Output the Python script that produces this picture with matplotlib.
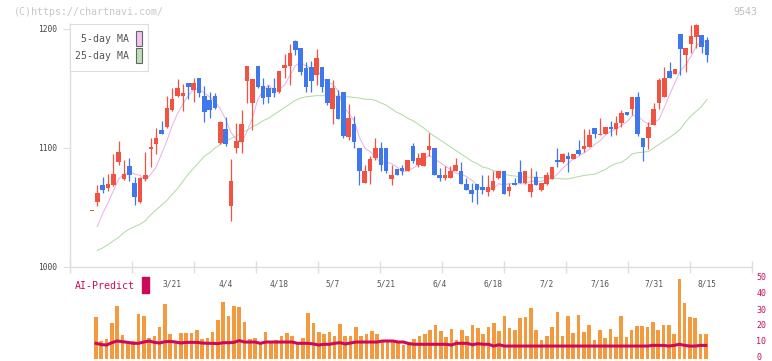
import numpy as np
import matplotlib
matplotlib.use('Agg')
import matplotlib.pyplot as plt
import matplotlib.transforms as mtransforms
from matplotlib.patches import Rectangle

# daily candles 2/28 .. 8/15 (yen)
opens = [1047, 1055, 1069, 1066, 1069, 1088, 1074, 1085, 1071, 1055,
         1074, 1099, 1103, 1115, 1118, 1132, 1144, 1144, 1155, 1149,
         1159, 1144, 1140, 1144, 1104, 1116, 1051, 1100, 1105, 1156,
         1138, 1169, 1152, 1150, 1150, 1147, 1167, 1169, 1190, 1184,
         1167, 1168, 1161, 1168, 1158, 1133, 1144, 1147, 1109, 1120,
         1100, 1071, 1081, 1092, 1100, 1100, 1074, 1082, 1083, 1081,
         1102, 1086, 1085, 1098, 1100, 1077, 1075, 1075, 1081, 1081,
         1070, 1065, 1070, 1067, 1063, 1065, 1075, 1081, 1064, 1071,
         1080, 1071, 1063, 1076, 1065, 1070, 1074, 1090, 1088, 1093,
         1091, 1098, 1099, 1101, 1117, 1111, 1112, 1118, 1116, 1121,
         1130, 1133, 1143, 1108, 1108, 1119, 1138, 1143, 1165, 1162,
         1196, 1178, 1187, 1193, 1195, 1191]
highs = [1047, 1069, 1076, 1078, 1095, 1106, 1090, 1092, 1076, 1076,
         1097, 1108, 1117, 1123, 1144, 1150, 1158, 1154, 1155, 1159,
         1159, 1152, 1147, 1146, 1123, 1126, 1091, 1121, 1132, 1169,
         1158, 1169, 1159, 1153, 1159, 1165, 1179, 1187, 1191, 1184,
         1172, 1173, 1183, 1168, 1158, 1157, 1149, 1147, 1137, 1127,
         1100, 1086, 1093, 1108, 1105, 1100, 1086, 1082, 1086, 1090,
         1104, 1096, 1096, 1113, 1100, 1083, 1085, 1085, 1092, 1088,
         1075, 1071, 1070, 1077, 1077, 1081, 1081, 1081, 1071, 1075,
         1090, 1081, 1083, 1081, 1071, 1080, 1084, 1100, 1096, 1097,
         1095, 1107, 1116, 1116, 1117, 1125, 1118, 1123, 1127, 1132,
         1130, 1143, 1147, 1108, 1122, 1138, 1159, 1168, 1172, 1166,
         1196, 1184, 1203, 1204, 1195, 1193]
lows = [1047, 1051, 1062, 1064, 1068, 1086, 1073, 1072, 1052, 1054,
        1072, 1084, 1095, 1112, 1117, 1131, 1143, 1131, 1141, 1139,
        1143, 1122, 1125, 1133, 1103, 1102, 1039, 1096, 1096, 1138,
        1115, 1150, 1137, 1138, 1143, 1146, 1159, 1153, 1178, 1161,
        1147, 1147, 1153, 1147, 1136, 1120, 1124, 1108, 1107, 1100,
        1069, 1071, 1070, 1090, 1081, 1079, 1069, 1077, 1077, 1081,
        1087, 1084, 1085, 1093, 1077, 1072, 1073, 1075, 1081, 1070,
        1065, 1055, 1053, 1061, 1060, 1064, 1074, 1061, 1060, 1069,
        1071, 1070, 1059, 1069, 1064, 1069, 1074, 1084, 1087, 1080,
        1091, 1094, 1097, 1101, 1108, 1111, 1112, 1110, 1111, 1118,
        1128, 1128, 1110, 1089, 1099, 1119, 1133, 1143, 1159, 1162,
        1161, 1164, 1180, 1184, 1180, 1172]
closes = [1047, 1062, 1065, 1070, 1078, 1097, 1078, 1077, 1059, 1075,
          1077, 1101, 1108, 1112, 1134, 1141, 1150, 1146, 1151, 1155,
          1146, 1130, 1132, 1134, 1122, 1103, 1072, 1106, 1120, 1169,
          1158, 1151, 1142, 1143, 1146, 1165, 1170, 1180, 1182, 1164,
          1151, 1156, 1176, 1151, 1138, 1150, 1124, 1110, 1125, 1105,
          1081, 1081, 1091, 1100, 1086, 1081, 1077, 1077, 1081, 1090,
          1089, 1092, 1096, 1102, 1077, 1075, 1077, 1081, 1086, 1070,
          1065, 1061, 1065, 1065, 1067, 1072, 1081, 1061, 1067, 1069,
          1071, 1081, 1070, 1069, 1071, 1077, 1084, 1088, 1095, 1091,
          1095, 1095, 1102, 1111, 1112, 1112, 1118, 1116, 1121, 1129,
          1128, 1143, 1112, 1101, 1118, 1133, 1157, 1159, 1159, 1166,
          1183, 1184, 1194, 1203, 1185, 1178]
ma5 = [np.nan, 1034, 1045, 1054, 1064, 1074, 1078, 1080, 1078, 1077,
       1073, 1078, 1084, 1095, 1106, 1119, 1129, 1137, 1144, 1149,
       1150, 1146, 1143, 1139, 1133, 1124, 1113, 1107, 1105, 1114,
       1125, 1141, 1148, 1153, 1148, 1149, 1153, 1161, 1169, 1172,
       1169, 1167, 1166, 1160, 1154, 1154, 1148, 1135, 1129, 1123,
       1109, 1100, 1097, 1092, 1088, 1088, 1087, 1084, 1080, 1081,
       1083, 1086, 1090, 1094, 1091, 1088, 1085, 1082, 1079, 1078,
       1076, 1073, 1069, 1065, 1065, 1066, 1070, 1069, 1070, 1070,
       1070, 1070, 1072, 1072, 1072, 1074, 1074, 1078, 1083, 1087,
       1091, 1093, 1096, 1099, 1103, 1106, 1111, 1114, 1116, 1119,
       1122, 1127, 1127, 1123, 1120, 1121, 1124, 1134, 1145, 1155,
       1165, 1170, 1177, 1186, 1190, 1189]
ma25 = [np.nan, 1014, 1016, 1019, 1022, 1025, 1029, 1032, 1034, 1036,
        1039, 1044, 1048, 1052, 1056, 1061, 1066, 1072, 1078, 1083,
        1088, 1093, 1096, 1100, 1103, 1106, 1108, 1110, 1113, 1115,
        1118, 1120, 1123, 1125, 1128, 1131, 1134, 1137, 1140, 1142,
        1143, 1143.5, 1144, 1144, 1144, 1144, 1143.5, 1143, 1143, 1142.5,
        1142, 1141, 1141, 1140, 1138, 1136, 1133, 1130, 1128, 1125,
        1123, 1120, 1117, 1113, 1110, 1107, 1104, 1101, 1098, 1095,
        1092, 1089, 1087, 1084, 1083, 1081, 1080, 1078.5, 1077, 1076.5,
        1076, 1075.5, 1075.5, 1075.5, 1075, 1075, 1074.5, 1074.5, 1074, 1074,
        1075, 1076, 1077, 1077.5, 1078, 1080, 1082, 1085, 1087, 1088,
        1091, 1095, 1096, 1096.5, 1097, 1100, 1103, 1106, 1109, 1112,
        1116, 1122, 1127, 1131, 1135, 1141]
volume = [26.3, 11.3, 12.5, 22.7, 33.1, 15.0, 10.6, 11.3, 28.1, 26.9,
          13.1, 14.4, 20.0, 34.4, 15.8, 10.6, 16.3, 16.3, 16.3, 18.1,
          12.5, 13.1, 16.9, 24.4, 35.6, 26.9, 33.1, 32.5, 23.1, 12.5,
          13.1, 10.6, 17.0, 10.6, 11.9, 14.4, 16.3, 14.4, 10.6, 13.1,
          28.8, 22.7, 16.9, 15.6, 16.9, 14.4, 21.9, 14.4, 14.4, 20.0,
          14.4, 15.6, 17.5, 15.6, 11.9, 11.9, 11.9, 10.2, 8.75, 10.6,
          12.5, 14.4, 15.6, 18.1, 21.3, 17.5, 13.8, 18.8, 11.9, 18.1,
          14.4, 21.3, 19.4, 15.6, 20.0, 22.5, 17.5, 26.9, 19.4, 18.1,
          25.6, 26.3, 31.9, 18.1, 11.9, 14.4, 20.0, 29.4, 14.4, 26.9,
          16.3, 27.5, 16.9, 21.3, 11.9, 18.1, 13.1, 18.8, 13.8, 26.9,
          13.8, 18.1, 20.6, 20.6, 20.0, 23.1, 18.1, 21.3, 21.3, 15.6,
          50.0, 35.0, 26.3, 25.6, 15.6, 15.6]
ai_predict = [9.8, 9.0, 8.75, 10.2, 11.25, 10.8, 10.4, 9.8, 9.8, 10.6,
              11.25, 10.4, 10.0, 10.8, 11.0, 10.6, 10.0, 10.4, 10.4, 10.4,
              10.0, 9.8, 9.8, 9.6, 10.2, 10.2, 10.4, 11.5, 10.6, 10.6,
              10.6, 9.8, 10.6, 10.6, 10.6, 10.6, 10.6, 10.6, 9.8, 9.8,
              9.8, 9.4, 8.75, 9.2, 9.2, 9.8, 10.2, 9.4, 10.0, 10.6,
              10.6, 10.6, 10.6, 10.6, 11.25, 11.25, 11.25, 10.6, 10.6, 9.6,
              9.2, 9.2, 9.2, 9.2, 9.2, 9.2, 9.2, 8.75, 9.8, 9.8,
              9.8, 8.9, 9.6, 9.2, 9.2, 8.1, 8.9, 8.1, 8.1, 8.1,
              8.1, 8.1, 8.1, 8.1, 8.1, 8.1, 8.1, 8.1, 8.1, 8.1,
              8.1, 8.1, 8.1, 8.1, 8.1, 8.1, 8.1, 8.1, 8.1, 8.1,
              8.1, 8.1, 8.1, 8.1, 8.1, 8.5, 8.5, 8.5, 8.1, 8.5,
              9.2, 8.5, 8.1, 8.1, 8.5, 8.5]
date_labels = ['3/21', '4/4', '4/18', '5/7', '5/21', '6/4', '6/18', '7/2',
               '7/16', '7/31', '8/15']
date_pos = [15, 25, 35, 45, 55, 65, 75, 85, 95, 105, 115]

RED = '#f25241'
BLUE = '#3f78ec'
PINK = '#e8b4e8'
GREEN = '#b5dba8'
ORANGE = '#f39a3f'
MAGENTA = '#cc0a5a'
GRID = '#dedede'
MONO = 'DejaVu Sans Mono'

W, H = 772, 361
fig = plt.figure(figsize=(W / 100, H / 100), dpi=100)


def px_axes(x0, y0, x1, y1):
  return fig.add_axes([x0 / W, 1 - y1 / H, (x1 - x0) / W, (y1 - y0) / H])


# ---- volume / AI-Predict panel (added first so the price axis labels sit on top) ----
av = px_axes(70, 279, 752, 359)
av.patch.set_visible(False)
vidx = np.arange(len(volume))
av.bar(vidx, volume, 0.68, color=ORANGE, linewidth=0)
av.plot(vidx, ai_predict, color=MAGENTA, lw=2.2)
av.set_xlim(-4.9, 123.7)
av.set_ylim(0, 50)
for s in av.spines.values():
  s.set_visible(False)
av.set_xticks([])
av.yaxis.tick_right()
av.set_yticks([0, 10, 20, 30, 40, 50])
av.tick_params(axis='y', length=0, pad=3, labelsize=6, labelcolor=MAGENTA)
shift = mtransforms.ScaledTranslation(0, 2 / 100, fig.dpi_scale_trans)
for lab in av.get_yticklabels():
  lab.set_family(MONO)
  lab.set_transform(lab.get_transform() + shift)

# ---- price panel ----
ax = px_axes(70, 24, 752, 267)
ax.patch.set_visible(False)
idx = np.arange(len(closes))
o = np.array(opens)
c = np.array(closes)
cols = np.where(c >= o, RED, BLUE)

ax.plot(idx, ma25, color=GREEN, lw=0.75, zorder=1)
ax.plot(idx, ma5, color=PINK, lw=0.75, zorder=1)
ax.vlines(idx, lows, highs, colors=cols, lw=0.9, zorder=2)
ax.bar(idx, np.maximum(np.abs(c - o), 0.9), 0.85, bottom=np.minimum(o, c),
       color=cols, linewidth=0, zorder=3)

ax.set_xlim(-4.11, 123.4)
ax.set_ylim(1000, 1204.2)
for s in ['top', 'right']:
  ax.spines[s].set_visible(False)
for s in ['left', 'bottom']:
  ax.spines[s].set_color(GRID)
  ax.spines[s].set_linewidth(1.0)

ax.set_yticks([1000, 1100, 1200])
ax.tick_params(axis='y', direction='out', length=5, color=GRID, pad=4,
               labelsize=5.7, labelcolor='#444444')
ax.set_xticks(date_pos)
ax.set_xticklabels(date_labels)
ax.tick_params(axis='x', which='major', length=0, pad=9,
               labelsize=5.7, labelcolor='#555555')
ax.set_xticks(np.linspace(-4.11, 123.4, 12), minor=True)
ax.tick_params(axis='x', which='minor', direction='inout', length=8,
               color=GRID, width=1.0)
for lab in ax.get_xticklabels() + ax.get_yticklabels():
  lab.set_family(MONO)

# legend box
lg = px_axes(70, 24, 148, 71)
lg.set_xlim(70, 148)
lg.set_ylim(71, 24)
lg.set_xticks([])
lg.set_yticks([])
for s in lg.spines.values():
  s.set_color(GRID)
lg.text(129, 39, '5-day MA', ha='right', va='center', fontsize=7.1,
        family=MONO, color='#555555')
lg.text(129, 56, '25-day MA', ha='right', va='center', fontsize=7.1,
        family=MONO, color='#555555')
lg.add_patch(Rectangle((136, 31), 6, 15, facecolor='#f2c4f0',
                       edgecolor='#666666', lw=0.8))
lg.add_patch(Rectangle((136, 48), 6, 15, facecolor='#bde0b4',
                       edgecolor='#666666', lw=0.8))

fig.text(14 / W, 1 - 12 / H, '(C)https://chartnavi.com/', fontsize=7.2,
         family=MONO, color='#c8c8c8', va='center')
fig.text(757 / W, 1 - 12 / H, '9543', fontsize=7.2, family=MONO,
         color='#c0c0c0', va='center', ha='right')

fig.text(75 / W, 1 - 286 / H, 'AI-Predict', fontsize=7.1, family=MONO,
         color=MAGENTA, va='center')
fig.add_artist(Rectangle((142 / W, 1 - 293 / H), 7 / W, 16 / H,
                         transform=fig.transFigure, color=MAGENTA))

fig.savefig('out.png', dpi=100)
